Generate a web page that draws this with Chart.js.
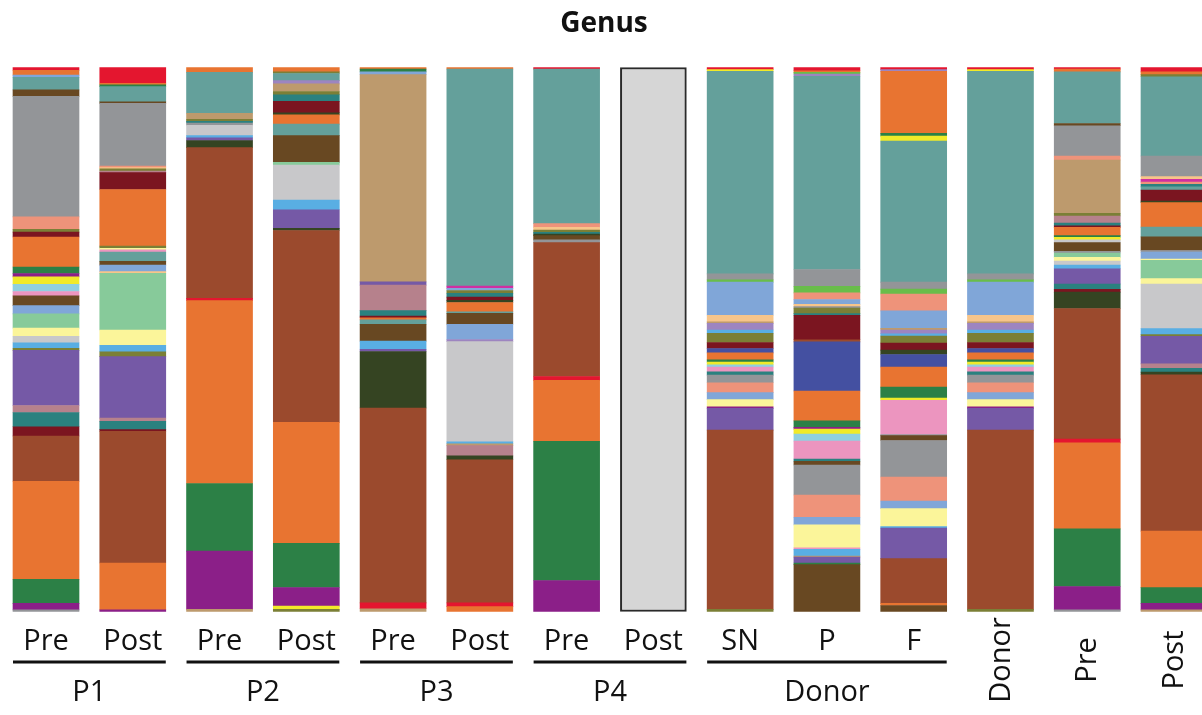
<!DOCTYPE html>
<html><head><meta charset="utf-8">
<script src="https://cdn.jsdelivr.net/npm/chart.js@4.4.1/dist/chart.umd.min.js"></script>
<style>html,body{margin:0;padding:0;background:#fff;overflow:hidden}#wrap{width:1202px;height:715px;position:relative}</style>
</head><body><div id="wrap"><canvas id="c"></canvas></div>
<script>
// ---------- DATA ----------
const titleText = "Genus";
const categories = ["Pre","Post","Pre","Post","Pre","Post","Pre","Post","SN","P","F","Donor","Pre","Post"];
const groupLabels = ["P1","P2","P3","P4","Donor"];
const groupFirst = [0,2,4,6,8];
const groupLast = [1,3,5,7,10];

// relative abundance (%) per genus, listed from top of bar to bottom
const p1Pre = [["red",0.5],["orange",0.9],["cornflower",0.4],["teal",2.3],["darkbrown",1.2],["gray",22.1],["salmon",2.3],["olive",0.5],["maroon",0.9],["orange",5.5],["green",1.2],["magenta",0.6],["yellow",1.4],["cyan",1.3],["pink",0.8],["darkbrown",1.8],["cornflower",1.5],["mint",2.6],["paleyellow",1.5],["lightgray",1.2],["skyblue",1.0],["olive",0.4],["violet",10.1],["mauve",1.3],["darkteal",2.6],["maroon",1.7],["rust",8.3],["orange",18.0],["green",4.4],["magenta",1.2],["gray",0.3]];
const p1Post = [["red",2.9],["orange",0.3],["green",0.3],["teal",2.8],["darkbrown",0.3],["gray",11.5],["salmon",0.3],["peach",0.2],["olive",0.4],["mauve",0.3],["maroon",3.1],["orange",10.4],["olive",0.4],["paleyellow",0.3],["pink",0.4],["teal",1.7],["darkbrown",0.7],["cornflower",1.2],["peach",0.3],["mint",10.4],["paleyellow",2.8],["skyblue",1.2],["olive",0.9],["violet",11.3],["mauve",0.6],["darkteal",1.5],["maroon",0.3],["rust",24.2],["orange",8.6],["magenta",0.3]];
const p2Pre = [["orange",0.9],["teal",7.5],["tan",1.1],["olive",0.4],["darkteal",0.3],["gray",0.4],["lightgray",1.9],["skyblue",0.4],["violet",0.5],["darkgreen",1.3],["rust",27.7],["red",0.4],["orange",33.6],["green",12.4],["magenta",10.7],["tan",0.4]];
const p2Post = [["orange",0.8],["olive",0.3],["teal",1.3],["lavender",0.6],["tan",1.4],["olive",0.6],["darkteal",1.2],["maroon",2.1],["darkgreen",0.4],["orange",1.7],["teal",2.1],["darkbrown",4.9],["mint",0.5],["lightgray",6.4],["skyblue",1.8],["violet",3.4],["darkgreen",0.4],["rust",35.2],["orange",22.2],["green",8.1],["magenta",3.4],["yellow",0.6],["olive",0.4]];
const p3Pre = [["orange",0.3],["green",0.5],["cornflower",0.5],["tan",38.1],["violet",0.6],["mauve",4.7],["darkteal",1.0],["maroon",0.3],["orange",0.4],["teal",0.8],["darkbrown",3.1],["skyblue",1.5],["violet",0.4],["darkgreen",10.4],["rust",35.8],["red",1.1],["tan",0.5]];
const p3Post = [["orange",0.3],["teal",39.9],["hotpink",0.4],["cornflower",0.4],["olive",0.5],["darkteal",0.7],["maroon",0.6],["darkgreen",0.4],["orange",1.7],["teal",0.3],["darkbrown",2.0],["cornflower",2.8],["lavender",0.4],["lightgray",18.4],["skyblue",0.4],["tan",0.3],["mauve",1.9],["darkgreen",0.7],["rust",26.3],["red",0.7],["orange",0.9]];
const p4Pre = [["red",0.3],["teal",28.4],["salmon",0.7],["peach",0.5],["olive",0.4],["darkteal",0.3],["darkgreen",0.3],["darkbrown",0.8],["gray",0.5],["rust",24.6],["red",0.7],["orange",11.2],["green",25.6],["magenta",5.7]];
const p4Post = [["nodata",100]];
const donorSN = [["red",0.4],["yellow",0.3],["teal",37.2],["gray",1.1],["lime",0.4],["cornflower",6.1],["peach",1.2],["tan",0.3],["lavender",1.2],["skyblue",0.6],["olive",1.7],["maroon",1.1],["navy",0.8],["orange",1.3],["green",0.4],["yellow",0.5],["cyan",0.4],["pink",0.9],["darkteal",0.6],["gray",1.4],["salmon",1.8],["cornflower",1.3],["paleyellow",1.3],["magenta",0.3],["violet",4.0],["rust",32.9],["olive",0.4]];
const donorP = [["red",0.6],["orange",0.3],["lime",0.3],["lavender",0.4],["teal",35.5],["gray",3.1],["lime",1.2],["salmon",1.2],["cornflower",0.9],["peach",0.4],["gray",0.3],["olive",1.0],["darkteal",0.3],["maroon",4.5],["rust",0.4],["navy",9.0],["orange",5.5],["green",1.2],["magenta",0.3],["yellow",0.9],["cyan",1.3],["pink",3.3],["darkteal",0.4],["darkbrown",0.7],["gray",5.5],["salmon",4.1],["cornflower",1.4],["paleyellow",4.2],["pink",0.3],["skyblue",1.2],["tan",0.2],["violet",1.1],["green",0.3],["darkbrown",8.6]];
const donorF = [["red",0.4],["lavender",0.3],["orange",11.4],["green",0.5],["yellow",0.9],["teal",25.9],["gray",1.3],["lime",0.9],["salmon",3.1],["cornflower",3.2],["tan",0.3],["lavender",0.7],["skyblue",0.4],["olive",1.3],["maroon",1.3],["darkgreen",0.8],["navy",2.3],["orange",3.7],["green",2.0],["yellow",0.4],["pink",6.3],["gray",0.2],["darkbrown",0.9],["gray",6.7],["salmon",4.4],["cornflower",1.4],["paleyellow",3.3],["skyblue",0.3],["violet",5.6],["rust",8.2],["orange",0.4],["darkbrown",1.1]];
const donor = [["red",0.4],["yellow",0.3],["teal",37.2],["gray",1.1],["lime",0.4],["cornflower",6.1],["peach",1.2],["tan",0.3],["lavender",1.2],["skyblue",0.6],["olive",1.7],["maroon",1.1],["navy",0.8],["orange",1.3],["green",0.4],["yellow",0.5],["cyan",0.4],["pink",0.9],["darkteal",0.6],["gray",1.4],["salmon",1.8],["cornflower",1.3],["paleyellow",1.3],["magenta",0.3],["violet",4.0],["rust",32.9],["olive",0.4]];
const recipientPre = [["red",0.3],["orange",0.5],["teal",9.5],["darkbrown",0.4],["gray",5.6],["salmon",0.7],["tan",9.8],["olive",0.5],["mauve",1.3],["darkteal",0.5],["maroon",0.3],["orange",1.5],["green",0.3],["yellow",0.5],["lightgray",0.5],["darkbrown",1.6],["gray",0.3],["mint",0.8],["paleyellow",0.7],["lightgray",0.7],["skyblue",0.7],["violet",2.8],["darkteal",1.0],["maroon",0.5],["darkgreen",3.0],["rust",24.0],["red",0.7],["orange",15.8],["green",10.6],["magenta",4.3],["gray",0.3]];
const recipientPost = [["red",0.8],["orange",0.5],["olive",0.4],["teal",14.6],["gray",3.8],["peach",0.5],["hotpink",0.5],["salmon",0.4],["darkteal",0.5],["teal",0.6],["maroon",2.0],["darkgreen",0.3],["orange",4.5],["teal",1.8],["darkbrown",2.5],["gray",0.3],["cornflower",1.3],["paleyellow",0.2],["mint",3.4],["paleyellow",1.0],["lightgray",8.2],["skyblue",1.1],["olive",0.3],["violet",5.1],["mauve",0.8],["darkteal",0.7],["darkgreen",0.5],["rust",28.8],["orange",10.4],["green",2.9],["magenta",1.2],["tan",0.3]];

// ---------- STYLE ----------
const genusColors = {
  red:"#e4162f", orange:"#e87431", teal:"#64a09b", gray:"#939598", darkbrown:"#684822",
  salmon:"#ee937a", maroon:"#7b1520", green:"#2c8046", magenta:"#8b1f88", yellow:"#f1ea29",
  cyan:"#90d0e0", pink:"#ec95bf", cornflower:"#80a6d8", mint:"#87ca9a", paleyellow:"#fbf59a",
  lightgray:"#c8c8ca", skyblue:"#59aee3", olive:"#7b7f36", violet:"#7559a6", mauve:"#b6818c",
  darkteal:"#2a817f", rust:"#9b4a2d", tan:"#bd9a6d", darkgreen:"#354422", navy:"#4450a1",
  lime:"#69bd4a", peach:"#f7c58a", lavender:"#9d85c0", hotpink:"#cf2fa2", nodata:"#d6d6d6"
};

const bars = [p1Pre,p1Post,p2Pre,p2Post,p3Pre,p3Post,p4Pre,p4Post,donorSN,donorP,donorF,donor,recipientPre,recipientPost];
const maxLen = Math.max(...bars.map(b => b.length));
const datasets = [];
for (let k = 0; k < maxLen; k++) {
  const data = [], colors = [], widths = [];
  bars.forEach(b => {
    const total = b.reduce((s, x) => s + x[1], 0);
    const seg = b[b.length - 1 - k];
    data.push(seg ? seg[1] / total * 100 : 0);
    colors.push(seg ? genusColors[seg[0]] : "rgba(0,0,0,0)");
    widths.push(seg && seg[0] === "nodata" ? 2 : 0);
  });
  datasets.push({ data, backgroundColor: colors, borderWidth: widths, borderColor: "#2a2a2a",
    borderSkipped: false, stack: "s", clip: false, barThickness: 66 });
}

const labelPlugin = {
  id: "labels",
  afterDraw(chart) {
    const ctx = chart.ctx, xs = chart.scales.x;
    ctx.save();
    ctx.fillStyle = "#111";
    ctx.textAlign = "center";
    ctx.textBaseline = "alphabetic";
    ctx.font = 'bold 28px "Open Sans"';
    ctx.fillText(titleText, 604, 32);
    ctx.font = '29px "Open Sans"';
    categories.forEach((c, i) => {
      const x = xs.getPixelForValue(i);
      if (i >= 11) {
        ctx.save();
        ctx.translate(x + 1, 660);
        ctx.rotate(-Math.PI / 2);
        ctx.textBaseline = "middle";
        ctx.fillText(c, 0, 0);
        ctx.restore();
      } else {
        ctx.fillText(c, x, 650);
      }
    });
    groupLabels.forEach((g, j) => {
      const x0 = xs.getPixelForValue(groupFirst[j]) - 33;
      const x1 = xs.getPixelForValue(groupLast[j]) + 33;
      ctx.fillRect(x0, 660.5, x1 - x0, 3);
      const xm = (xs.getPixelForValue(groupFirst[j]) + xs.getPixelForValue(groupLast[j])) / 2;
      ctx.fillText(g, xm, 701);
    });
    ctx.restore();
  }
};

new Chart(document.getElementById("c"), {
  type: "bar",
  data: { labels: categories, datasets },
  options: {
    responsive: true, maintainAspectRatio: false, animation: false,
    layout: { padding: { left: 46, right: 28, top: 67.5, bottom: 103.5 } },
    plugins: { legend: { display: false }, tooltip: { enabled: false }, title: { display: false } },
    scales: {
      x: { type: "category", offset: false, stacked: true, display: false },
      y: { stacked: true, min: 0, max: 100, display: false }
    }
  },
  plugins: [labelPlugin]
});
</script></body></html>
